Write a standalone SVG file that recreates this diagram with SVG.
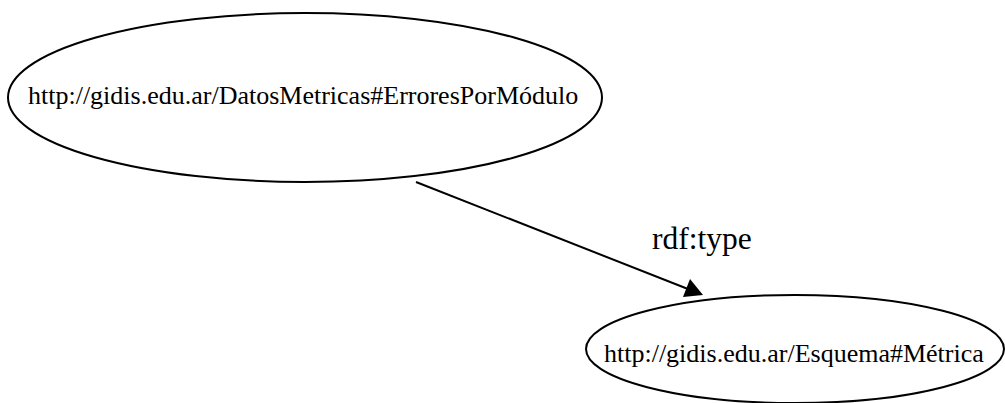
<svg xmlns="http://www.w3.org/2000/svg" width="1005" height="403" viewBox="0 0 1005 403">
<style>
.node{fill:none;stroke:#000;stroke-width:2}
.lbl{font-family:"Liberation Serif","Times New Roman",serif;fill:#000}
.edge{stroke:#000;stroke-width:2;fill:none}
</style>
<rect width="1005" height="403" fill="#fff"/>
<g id="node1">
<ellipse class="node" cx="305" cy="97.5" rx="297" ry="84.5"/>
<text class="lbl" x="28" y="104" font-size="26">http://gidis.edu.ar/DatosMetricas#ErroresPorMódulo</text>
</g>
<g id="node2">
<ellipse class="node" cx="795" cy="349" rx="209" ry="54"/>
<text class="lbl" x="604" y="362" font-size="26">http://gidis.edu.ar/Esquema#Métrica</text>
</g>
<g id="connectors">
<line class="edge" x1="416" y1="182" x2="688" y2="289"/>
<polygon points="703,295 683,297 690,279" fill="#000"/>
<text class="lbl" x="652" y="249" font-size="31.5">rdf:type</text>
</g>
</svg>
